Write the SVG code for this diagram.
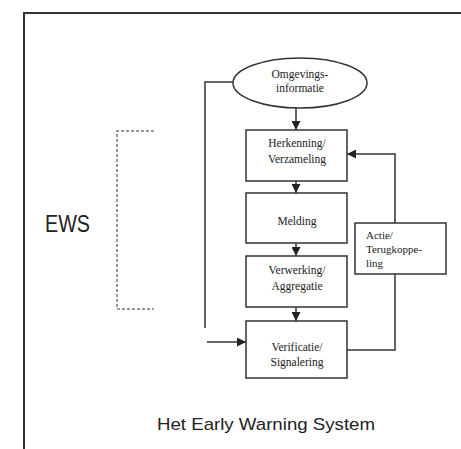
<svg xmlns="http://www.w3.org/2000/svg" width="461" height="449" viewBox="0 0 461 449">
<style>
.box{fill:#fff;stroke:#333;stroke-width:1.5}
.ln{fill:none;stroke:#333;stroke-width:1.5}
.t{font-family:"Liberation Serif",serif;font-size:11.5px;fill:#222;text-anchor:middle}
.tl{font-family:"Liberation Serif",serif;font-size:11px;fill:#222}
.s{font-family:"Liberation Sans",Arial,sans-serif;fill:#222}
</style>
<defs>
<marker id="ah" viewBox="0 0 10 10" refX="10" refY="5" markerWidth="9" markerHeight="9" markerUnits="userSpaceOnUse" orient="auto">
<path d="M0,0 L10,5 L0,10 Z" fill="#222"/>
</marker>
</defs>
<rect width="461" height="449" fill="#fff"/>
<g id="frame">
<path d="M24,449 V13 H461" fill="none" stroke="#333" stroke-width="2"/>
</g>
<g id="bracket">
<path d="M154,131 H117 V309 H154" fill="none" stroke="#777" stroke-width="1.5" stroke-dasharray="3,2"/>
</g>
<g id="connectors">
<line class="ln" x1="296" y1="108" x2="296" y2="130" marker-end="url(#ah)"/>
<line class="ln" x1="296" y1="181" x2="296" y2="193" marker-end="url(#ah)"/>
<line class="ln" x1="296" y1="243" x2="296" y2="256" marker-end="url(#ah)"/>
<line class="ln" x1="296" y1="307" x2="296" y2="321" marker-end="url(#ah)"/>
<path class="ln" d="M234,82 H205 V328"/>
<line class="ln" x1="207" y1="342" x2="246" y2="342" marker-end="url(#ah)"/>
<path class="ln" d="M347,350 H395 V274"/>
<path class="ln" d="M395,223 V154 H347" marker-end="url(#ah)"/>
</g>
<g id="omgevings">
<ellipse cx="300" cy="83" rx="67" ry="25" class="box"/>
<text class="t" x="300" y="78">Omgevings-</text>
<text class="t" x="300" y="92">informatie</text>
</g>
<g id="herkenning">
<rect class="box" x="246" y="130" width="101" height="51"/>
<text class="t" x="297" y="147">Herkenning/</text>
<text class="t" x="297" y="163">Verzameling</text>
</g>
<g id="melding">
<rect class="box" x="246" y="193" width="101" height="50"/>
<text class="t" x="297" y="225">Melding</text>
</g>
<g id="verwerking">
<rect class="box" x="246" y="256" width="101" height="51"/>
<text class="t" x="297" y="274">Verwerking/</text>
<text class="t" x="297" y="290">Aggregatie</text>
</g>
<g id="verificatie">
<rect class="box" x="246" y="321" width="101" height="57"/>
<text class="t" x="297" y="351">Verificatie/</text>
<text class="t" x="297" y="366">Signalering</text>
</g>
<g id="actie">
<rect class="box" x="355" y="223" width="91" height="51"/>
<text class="tl" x="366" y="239">Actie/</text>
<text class="tl" x="366" y="253">Terugkoppe-</text>
<text class="tl" x="366" y="267">ling</text>
</g>
<text class="s" x="45" y="232" font-size="23" textLength="45" lengthAdjust="spacingAndGlyphs">EWS</text>
<text class="s" x="157" y="430" font-size="17" textLength="218" lengthAdjust="spacingAndGlyphs">Het Early Warning System</text>
</svg>
